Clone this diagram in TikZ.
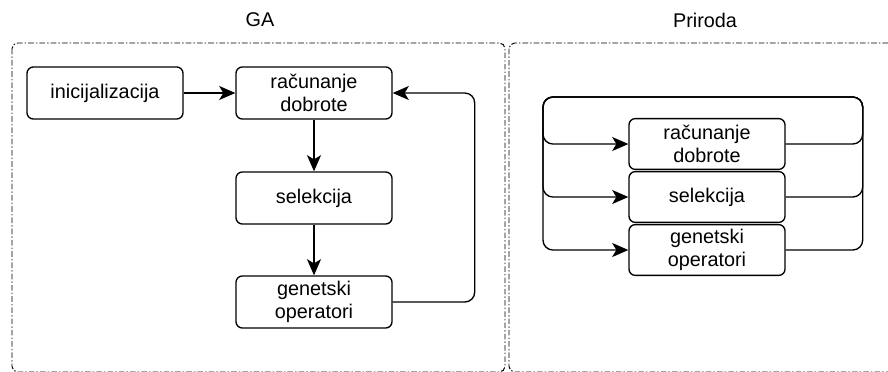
\documentclass[tikz,border=0pt]{standalone}
\usepackage{fontspec}
\setmainfont{Liberation Sans}
\usetikzlibrary{arrows.meta}
\def\gaSteps{{(105, 93)/gInit/inicijalizacija}, {(314, 93)/gRac/{računanje\\dobrote}}, {(314, 198)/gSel/selekcija}, {(314, 302)/gGen/{genetski\\operatori}}}
\def\prSteps{{(707, 144)/pRac/{računanje\\dobrote}}, {(707, 197)/pSel/selekcija}, {(707, 250)/pGen/{genetski\\operatori}}}
\def\gaConnect{gInit/gRac, gRac/gSel, gSel/gGen}
\tikzstyle{container} = [draw, line width=0.7pt, dash pattern=on 4pt off 1.5pt on 1pt off 1.5pt, rounded corners=4pt]
\tikzstyle{block} = [draw, line width=0.95pt, rounded corners=4.5pt, align=center, minimum width=3.9cm, minimum height=1.3cm, inner sep=0pt]
\tikzstyle{pblock} = [block, minimum height=1.27cm]
\tikzstyle{edge} = [draw, line width=0.95pt, rounded corners=7pt, -{Stealth[length=11.5pt, width=10pt, inset=3pt]}]
\tikzstyle{title} = [inner sep=0pt]

\begin{document}
\begin{tikzpicture}[x=0.025cm, y=-0.025cm, font=\fontsize{14.1}{16.4}\selectfont]
  \useasboundingbox (0, 0) rectangle (888, 371);

  % Titles and the two frames
  \node[title] (tGA) at (260, 20) {GA};
  \node[title] (tPriroda) at (705, 20) {Priroda};
  \path[container] (12, 43) rectangle (505, 372);
  \path[container] (509, 43) rectangle (905, 372);

  % GA side
  \foreach \pos/\name/\text in \gaSteps {
    \node[block] (\name) at \pos {\text};
    }
  \foreach \source/\sink in \gaConnect {
    \path[edge] (\source) -- (\sink);
    }
  \path[edge] (gGen.east) -- ++(82, 0) |- (gRac.east);

  % Priroda side, every step loops back on itself
  \foreach \pos/\name/\text in \prSteps {
    \node[pblock] (\name) at \pos {\text};
    }
  \foreach \name in {pRac, pSel, pGen} {
    \path[edge] (\name.east) -- ++(77, 0) |- (543, 97) |- (\name.west);
    }
\end{tikzpicture}
\end{document}
